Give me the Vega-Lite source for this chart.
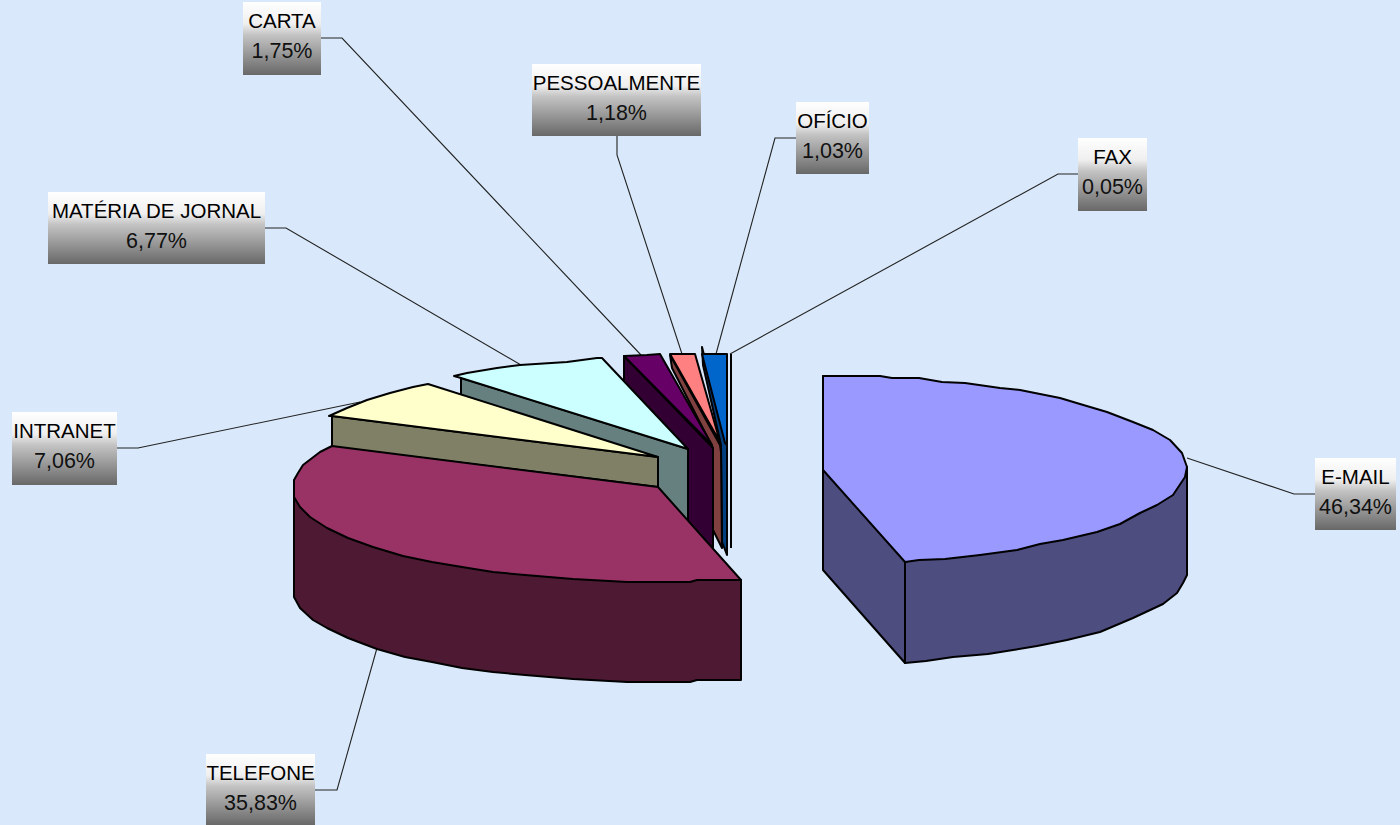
{"$schema":"https://vega.github.io/schema/vega-lite/v6.json","width":1400,"height":825,"padding":0,"autosize":{"type":"fit","contains":"padding"},"background":"#D9E9FB","config":{"view":{"stroke":null}},
"datasets":{
"shapes":[
{"part":"Ofício lateral","i":1,"x":702,"y":347},{"part":"Ofício lateral","i":2,"x":703,"y":365},{"part":"Ofício lateral","i":3,"x":721,"y":445},{"part":"Ofício lateral","i":4,"x":722,"y":542},{"part":"Ofício lateral","i":5,"x":727,"y":555},{"part":"Ofício lateral","i":6,"x":727,"y":445},
{"part":"Ofício topo","i":1,"x":702,"y":354},{"part":"Ofício topo","i":2,"x":727,"y":354},{"part":"Ofício topo","i":3,"x":727,"y":445},{"part":"Ofício topo","i":4,"x":725,"y":443},
{"part":"Pessoalmente lateral","i":1,"x":670,"y":355},{"part":"Pessoalmente lateral","i":2,"x":672,"y":368},{"part":"Pessoalmente lateral","i":3,"x":713,"y":448},{"part":"Pessoalmente lateral","i":4,"x":713,"y":530},{"part":"Pessoalmente lateral","i":5,"x":722,"y":548},{"part":"Pessoalmente lateral","i":6,"x":721,"y":452},{"part":"Pessoalmente lateral","i":7,"x":720,"y":445},
{"part":"Pessoalmente topo","i":1,"x":670,"y":354},{"part":"Pessoalmente topo","i":2,"x":695,"y":354},{"part":"Pessoalmente topo","i":3,"x":720,"y":442},
{"part":"Carta lateral","i":1,"x":624,"y":356},{"part":"Carta lateral","i":2,"x":713,"y":448},{"part":"Carta lateral","i":3,"x":713,"y":548},{"part":"Carta lateral","i":4,"x":624,"y":460},
{"part":"Carta topo","i":1,"x":624,"y":356},{"part":"Carta topo","i":2,"x":647,"y":355},{"part":"Carta topo","i":3,"x":660,"y":354},{"part":"Carta topo","i":4,"x":712,"y":445},
{"part":"Matéria lateral","i":1,"x":461,"y":378},{"part":"Matéria lateral","i":2,"x":688,"y":449},{"part":"Matéria lateral","i":3,"x":688,"y":550},{"part":"Matéria lateral","i":4,"x":461,"y":480},
{"part":"Matéria topo","i":1,"x":454,"y":376},{"part":"Matéria topo","i":2,"x":467,"y":373},{"part":"Matéria topo","i":3,"x":497,"y":368},{"part":"Matéria topo","i":4,"x":520,"y":365},{"part":"Matéria topo","i":5,"x":567,"y":362},{"part":"Matéria topo","i":6,"x":597,"y":358},{"part":"Matéria topo","i":7,"x":602,"y":358},{"part":"Matéria topo","i":8,"x":688,"y":449},{"part":"Matéria topo","i":9,"x":461,"y":378},
{"part":"Intranet lateral","i":1,"x":332,"y":416},{"part":"Intranet lateral","i":2,"x":658,"y":457},{"part":"Intranet lateral","i":3,"x":658,"y":487},{"part":"Intranet lateral","i":4,"x":332,"y":447},
{"part":"Intranet topo","i":1,"x":329,"y":416},{"part":"Intranet topo","i":2,"x":347,"y":408},{"part":"Intranet topo","i":3,"x":367,"y":400},{"part":"Intranet topo","i":4,"x":390,"y":393},{"part":"Intranet topo","i":5,"x":413,"y":387},{"part":"Intranet topo","i":6,"x":428,"y":384},{"part":"Intranet topo","i":7,"x":658,"y":457},{"part":"Intranet topo","i":8,"x":332,"y":416},
{"part":"Telefone lateral","i":1,"x":294,"y":497},{"part":"Telefone lateral","i":2,"x":294,"y":597},{"part":"Telefone lateral","i":3,"x":300,"y":608},{"part":"Telefone lateral","i":4,"x":313,"y":620},{"part":"Telefone lateral","i":5,"x":327,"y":628},{"part":"Telefone lateral","i":6,"x":348,"y":638},{"part":"Telefone lateral","i":7,"x":377,"y":649},{"part":"Telefone lateral","i":8,"x":405,"y":657},{"part":"Telefone lateral","i":9,"x":432,"y":662},{"part":"Telefone lateral","i":10,"x":462,"y":668},{"part":"Telefone lateral","i":11,"x":493,"y":672},{"part":"Telefone lateral","i":12,"x":525,"y":675},{"part":"Telefone lateral","i":13,"x":573,"y":679},{"part":"Telefone lateral","i":14,"x":627,"y":682},{"part":"Telefone lateral","i":15,"x":690,"y":682},{"part":"Telefone lateral","i":16,"x":697,"y":680},{"part":"Telefone lateral","i":17,"x":741,"y":680},{"part":"Telefone lateral","i":18,"x":741,"y":580},{"part":"Telefone lateral","i":19,"x":500,"y":560},
{"part":"Telefone topo","i":1,"x":332,"y":446},{"part":"Telefone topo","i":2,"x":320,"y":452},{"part":"Telefone topo","i":3,"x":303,"y":465},{"part":"Telefone topo","i":4,"x":298,"y":473},{"part":"Telefone topo","i":5,"x":294,"y":480},{"part":"Telefone topo","i":6,"x":294,"y":497},{"part":"Telefone topo","i":7,"x":300,"y":507},{"part":"Telefone topo","i":8,"x":310,"y":517},{"part":"Telefone topo","i":9,"x":327,"y":528},{"part":"Telefone topo","i":10,"x":348,"y":538},{"part":"Telefone topo","i":11,"x":373,"y":547},{"part":"Telefone topo","i":12,"x":403,"y":556},{"part":"Telefone topo","i":13,"x":432,"y":562},{"part":"Telefone topo","i":14,"x":462,"y":567},{"part":"Telefone topo","i":15,"x":493,"y":572},{"part":"Telefone topo","i":16,"x":525,"y":575},{"part":"Telefone topo","i":17,"x":573,"y":579},{"part":"Telefone topo","i":18,"x":627,"y":582},{"part":"Telefone topo","i":19,"x":690,"y":582},{"part":"Telefone topo","i":20,"x":697,"y":580},{"part":"Telefone topo","i":21,"x":741,"y":580},{"part":"Telefone topo","i":22,"x":658,"y":487},
{"part":"E-mail corte","i":1,"x":823,"y":376},{"part":"E-mail corte","i":2,"x":905,"y":562},{"part":"E-mail corte","i":3,"x":905,"y":663},{"part":"E-mail corte","i":4,"x":823,"y":570},
{"part":"E-mail lateral","i":1,"x":905,"y":562},{"part":"E-mail lateral","i":2,"x":1187,"y":467},{"part":"E-mail lateral","i":3,"x":1187,"y":575},{"part":"E-mail lateral","i":4,"x":1183,"y":583},{"part":"E-mail lateral","i":5,"x":1177,"y":593},{"part":"E-mail lateral","i":6,"x":1163,"y":604},{"part":"E-mail lateral","i":7,"x":1133,"y":618},{"part":"E-mail lateral","i":8,"x":1100,"y":632},{"part":"E-mail lateral","i":9,"x":1067,"y":640},{"part":"E-mail lateral","i":10,"x":1037,"y":646},{"part":"E-mail lateral","i":11,"x":1013,"y":650},{"part":"E-mail lateral","i":12,"x":988,"y":654},{"part":"E-mail lateral","i":13,"x":953,"y":657},{"part":"E-mail lateral","i":14,"x":926,"y":661},{"part":"E-mail lateral","i":15,"x":905,"y":663},
{"part":"E-mail topo","i":1,"x":823,"y":376},{"part":"E-mail topo","i":2,"x":880,"y":376},{"part":"E-mail topo","i":3,"x":892,"y":378},{"part":"E-mail topo","i":4,"x":919,"y":378},{"part":"E-mail topo","i":5,"x":942,"y":382},{"part":"E-mail topo","i":6,"x":965,"y":383},{"part":"E-mail topo","i":7,"x":1000,"y":388},{"part":"E-mail topo","i":8,"x":1020,"y":390},{"part":"E-mail topo","i":9,"x":1040,"y":394},{"part":"E-mail topo","i":10,"x":1060,"y":398},{"part":"E-mail topo","i":11,"x":1080,"y":404},{"part":"E-mail topo","i":12,"x":1107,"y":412},{"part":"E-mail topo","i":13,"x":1133,"y":422},{"part":"E-mail topo","i":14,"x":1153,"y":430},{"part":"E-mail topo","i":15,"x":1170,"y":440},{"part":"E-mail topo","i":16,"x":1182,"y":453},{"part":"E-mail topo","i":17,"x":1187,"y":467},{"part":"E-mail topo","i":18,"x":1185,"y":477},{"part":"E-mail topo","i":19,"x":1173,"y":495},{"part":"E-mail topo","i":20,"x":1157,"y":505},{"part":"E-mail topo","i":21,"x":1140,"y":513},{"part":"E-mail topo","i":22,"x":1120,"y":524},{"part":"E-mail topo","i":23,"x":1097,"y":532},{"part":"E-mail topo","i":24,"x":1063,"y":540},{"part":"E-mail topo","i":25,"x":1040,"y":544},{"part":"E-mail topo","i":26,"x":1017,"y":550},{"part":"E-mail topo","i":27,"x":980,"y":555},{"part":"E-mail topo","i":28,"x":945,"y":559},{"part":"E-mail topo","i":29,"x":919,"y":560},{"part":"E-mail topo","i":30,"x":905,"y":562},{"part":"E-mail topo","i":31,"x":823,"y":470}
],
"leaders":[
{"cat":"E-MAIL","i":1,"x":1187,"y":458},{"cat":"E-MAIL","i":2,"x":1294,"y":494},{"cat":"E-MAIL","i":3,"x":1315,"y":494},
{"cat":"FAX","i":1,"x":730,"y":354},{"cat":"FAX","i":2,"x":1058,"y":174},{"cat":"FAX","i":3,"x":1078,"y":174},
{"cat":"OFÍCIO","i":1,"x":716,"y":354},{"cat":"OFÍCIO","i":2,"x":775,"y":138},{"cat":"OFÍCIO","i":3,"x":796,"y":138},
{"cat":"PESSOALMENTE","i":1,"x":682,"y":354},{"cat":"PESSOALMENTE","i":2,"x":617,"y":155},{"cat":"PESSOALMENTE","i":3,"x":617,"y":136},
{"cat":"CARTA","i":1,"x":641,"y":355},{"cat":"CARTA","i":2,"x":342,"y":38},{"cat":"CARTA","i":3,"x":321,"y":38},
{"cat":"MATÉRIA DE JORNAL","i":1,"x":521,"y":365},{"cat":"MATÉRIA DE JORNAL","i":2,"x":286,"y":228},{"cat":"MATÉRIA DE JORNAL","i":3,"x":265,"y":228},
{"cat":"INTRANET","i":1,"x":360,"y":402},{"cat":"INTRANET","i":2,"x":138,"y":448},{"cat":"INTRANET","i":3,"x":117,"y":448},
{"cat":"TELEFONE","i":1,"x":377,"y":648},{"cat":"TELEFONE","i":2,"x":337,"y":790},{"cat":"TELEFONE","i":3,"x":315,"y":790}
],
"fax":[{"x":731,"y":354,"y2":548}],
"labels":[
{"cat":"E-MAIL","pct":"46,34%","x0":1315,"x1":1396,"y0":458,"y1":530},
{"cat":"FAX","pct":"0,05%","x0":1078,"x1":1147,"y0":138,"y1":211},
{"cat":"OFÍCIO","pct":"1,03%","x0":796,"x1":869,"y0":102,"y1":174},
{"cat":"PESSOALMENTE","pct":"1,18%","x0":532,"x1":701,"y0":64,"y1":136},
{"cat":"CARTA","pct":"1,75%","x0":243,"x1":321,"y0":2,"y1":75},
{"cat":"MATÉRIA DE JORNAL","pct":"6,77%","x0":48,"x1":265,"y0":192,"y1":264},
{"cat":"INTRANET","pct":"7,06%","x0":12,"x1":117,"y0":412,"y1":485},
{"cat":"TELEFONE","pct":"35,83%","x0":206,"x1":315,"y0":754,"y1":825}
]},
"layer":[
{"data":{"name":"leaders"},"mark":{"type":"line","stroke":"#222222","strokeWidth":1.1},"encoding":{"x":{"field":"x","type":"quantitative","scale":{"domain":[0,1400],"nice":false,"zero":false},"axis":null},"y":{"field":"y","type":"quantitative","scale":{"domain":[825,0],"nice":false,"zero":false},"axis":null},"detail":{"field":"cat"},"order":{"field":"i"}}},
{"data":{"name":"fax"},"mark":{"type":"rule","stroke":"#000000","strokeWidth":2},"encoding":{"x":{"field":"x","type":"quantitative"},"y":{"field":"y","type":"quantitative"},"y2":{"field":"y2"}}},
{"data":{"name":"shapes"},"mark":{"type":"line","interpolate":"linear-closed","filled":true,"stroke":"#000000","strokeWidth":2,"strokeJoin":"round"},"encoding":{"x":{"field":"x","type":"quantitative"},"y":{"field":"y","type":"quantitative"},"detail":{"field":"part"},"order":{"field":"i"},"fill":{"field":"part","type":"nominal","legend":null,"sort":null,"scale":{"domain":["Ofício lateral","Ofício topo","Pessoalmente lateral","Pessoalmente topo","Carta lateral","Carta topo","Matéria lateral","Matéria topo","Intranet lateral","Intranet topo","Telefone lateral","Telefone topo","E-mail corte","E-mail lateral","E-mail topo"],"range":["#004080","#0066CC","#804040","#FF8080","#330033","#660066","#668080","#CCFFFF","#808066","#FFFFCC","#4D1933","#993366","#4D4D80","#4D4D80","#9999FF"]}}}},
{"data":{"name":"labels"},"mark":{"type":"rect","fill":{"gradient":"linear","x1":0,"y1":0,"x2":0,"y2":1,"stops":[{"offset":0,"color":"#FFFFFF"},{"offset":0.3,"color":"#EFEFEF"},{"offset":0.45,"color":"#C4C4C4"},{"offset":1,"color":"#686868"}]}},"encoding":{"x":{"field":"x0","type":"quantitative"},"x2":{"field":"x1"},"y":{"field":"y0","type":"quantitative"},"y2":{"field":"y1"}}},
{"data":{"name":"labels"},"transform":[{"calculate":"(datum.x0+datum.x1)/2","as":"cx"},{"calculate":"datum.y0+26","as":"ty"}],"mark":{"type":"text","font":"Liberation Sans","fontSize":20.5,"baseline":"alphabetic","align":"center","fill":"#000000"},"encoding":{"x":{"field":"cx","type":"quantitative"},"y":{"field":"ty","type":"quantitative"},"text":{"field":"cat"}}},
{"data":{"name":"labels"},"transform":[{"calculate":"(datum.x0+datum.x1)/2","as":"cx"},{"calculate":"datum.y0+56","as":"ty"}],"mark":{"type":"text","font":"Liberation Sans","fontSize":21.5,"baseline":"alphabetic","align":"center","fill":"#111111"},"encoding":{"x":{"field":"cx","type":"quantitative"},"y":{"field":"ty","type":"quantitative"},"text":{"field":"pct"}}}
]}
